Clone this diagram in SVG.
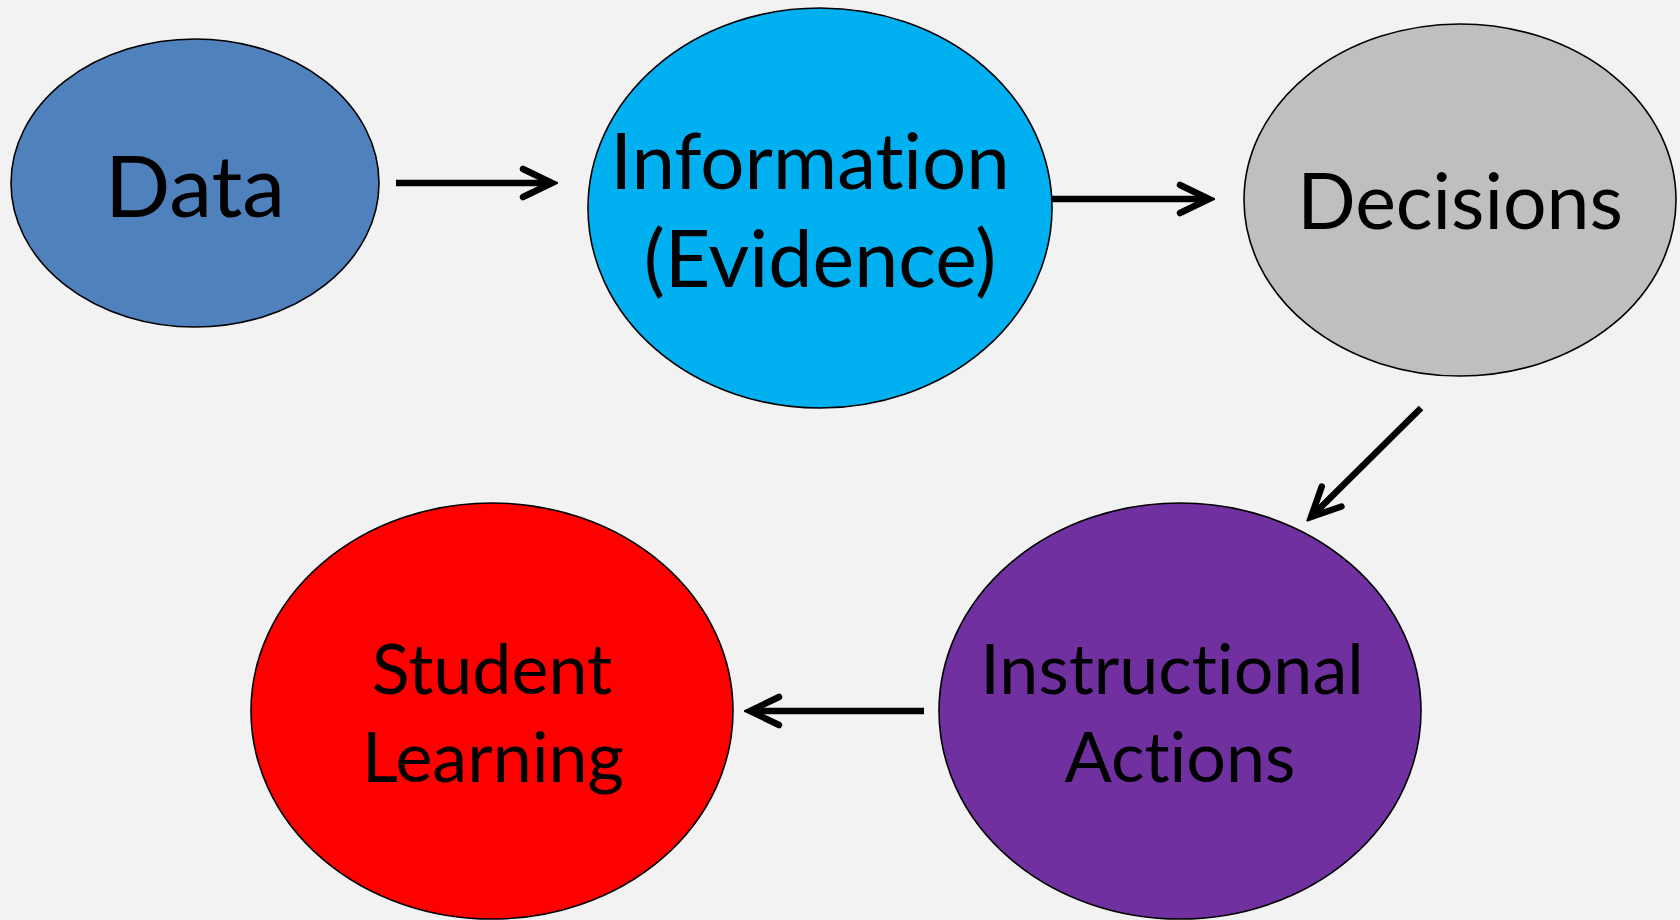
<svg xmlns="http://www.w3.org/2000/svg" width="1680" height="920" viewBox="0 0 1680 920">
<defs>
<style>
.node ellipse{stroke:#000;stroke-width:1.6}
.node text{font-family:Lato,"Open Sans","Liberation Sans",sans-serif;fill:#000;text-anchor:middle;font-variant-ligatures:none;font-feature-settings:"liga" 0,"clig" 0}
.conn line{stroke:#000;stroke-width:6.5;fill:none}
</style>
<marker id="ah" markerUnits="userSpaceOnUse" viewBox="-40 -22 46 44" refX="0" refY="0" markerWidth="46" markerHeight="44" orient="auto">
<path d="M-29,-14 L0,0 L-29,14" fill="none" stroke="#000" stroke-width="6.5" stroke-linecap="round" stroke-linejoin="miter"/>
</marker>
</defs>
<rect width="1680" height="920" fill="#F2F2F2"/>
<g id="data" class="node">
<ellipse cx="195" cy="183" rx="184" ry="144" fill="#4F81BD"/>
<text x="195" y="217" font-size="86">Data</text>
</g>
<g id="information" class="node">
<ellipse cx="820" cy="208" rx="232" ry="200" fill="#00B0F0"/>
<text x="810" y="189" font-size="78">Information</text>
<text x="820" y="287" font-size="79">(Evidence)</text>
</g>
<g id="decisions" class="node">
<ellipse cx="1460" cy="200" rx="216" ry="176" fill="#BFBFBF"/>
<text x="1460" y="229" font-size="77">Decisions</text>
</g>
<g id="instructional-actions" class="node">
<ellipse cx="1180" cy="711" rx="241" ry="208" fill="#7030A0"/>
<text x="1172" y="694" font-size="70">Instructional</text>
<text x="1180" y="782" font-size="70">Actions</text>
</g>
<g id="student-learning" class="node">
<ellipse cx="492" cy="711" rx="241" ry="208" fill="#FF0000"/>
<text x="492" y="694" font-size="70">Student</text>
<text x="493" y="782" font-size="70">Learning</text>
</g>
<g id="connectors" class="conn">
<line x1="396" y1="183" x2="552" y2="183" marker-end="url(#ah)"/>
<line x1="1052" y1="199" x2="1209" y2="199" marker-end="url(#ah)"/>
<line x1="1421" y1="408" x2="1311" y2="517" marker-end="url(#ah)"/>
<line x1="924" y1="711" x2="750" y2="711" marker-end="url(#ah)"/>
</g>
</svg>
